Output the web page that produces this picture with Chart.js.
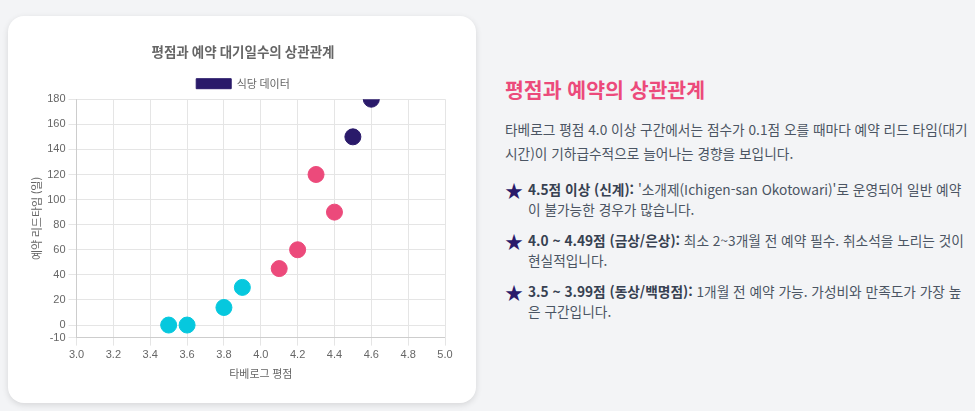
<!DOCTYPE html>
<html lang="ko">
<head>
<meta charset="utf-8">
<script src="https://cdn.jsdelivr.net/npm/chart.js@4.4.0/dist/chart.umd.min.js"></script>
<style>
  html, body { margin: 0; padding: 0; }
  body {
    width: 975px; height: 411px; overflow: hidden;
    background: #f3f4f6;
    font-family: "Noto Sans CJK KR", "Noto Sans", sans-serif;
    position: relative;
  }
  .card {
    position: absolute; left: 8px; top: 16px; width: 468px; height: 387px;
    background: #fff; border-radius: 16px;
    box-shadow: 0 2px 6px rgba(0,0,0,0.12);
  }
  .chart-box { position: absolute; left: 22px; top: 18px; width: 426px; height: 350px; }
  .info { position: absolute; left: 505px; top: 72px; width: 464px; color: #4b5563; }
  .info h2 { margin: 0 0 11px 0; font-size: 20.5px; font-weight: 700; color: #ec4a7b; line-height: 34px; }
  .info p { margin: 0 0 14px 0; font-size: 13.7px; line-height: 24px; }
  .info ul { list-style: none; margin: 0; padding: 0; }
  .info li { position: relative; padding-left: 23px; font-size: 13.7px; line-height: 20px; margin-bottom: 11px; }
  .info li::before { content: "\2605"; position: absolute; left: 0; top: 1px; color: #2a1a6a; font-size: 18px; }
  .info b { color: #374151; }
</style>
</head>
<body>
<div class="card"><div class="chart-box"><canvas id="corr"></canvas></div></div>
<div class="info">
  <h2>평점과 예약의 상관관계</h2>
  <p>타베로그 평점 4.0 이상 구간에서는 점수가 0.1점 오를 때마다 예약 리드 타임(대기시간)이 기하급수적으로 늘어나는 경향을 보입니다.</p>
  <ul>
    <li><b>4.5점 이상 (신계):</b> '소개제(Ichigen-san Okotowari)'로 운영되어 일반 예약이 불가능한 경우가 많습니다.</li>
    <li><b>4.0 ~ 4.49점 (금상/은상):</b> 최소 2~3개월 전 예약 필수. 취소석을 노리는 것이 현실적입니다.</li>
    <li><b>3.5 ~ 3.99점 (동상/백명점):</b> 1개월 전 예약 가능. 가성비와 만족도가 가장 높은 구간입니다.</li>
  </ul>
</div>
<script>
// 평점 (x) / 예약 리드타임 일수 (y)
const ratings = [4.6, 4.5, 4.4, 4.3, 4.2, 4.1, 3.9, 3.8, 3.6, 3.5];
const leadDays = [180, 150, 90, 120, 60, 45, 30, 14, 0, 0];
const xTicks = [3.0, 3.2, 3.4, 3.6, 3.8, 4.0, 4.2, 4.4, 4.6, 4.8, 5.0];
const yTicks = [-10, 0, 20, 40, 60, 80, 100, 120, 140, 160, 180];

const pointColors = ratings.map(r => r >= 4.5 ? '#2a1a6a' : (r >= 4.0 ? '#ec4a7b' : '#06c8de'));

const ctx = document.getElementById('corr').getContext('2d');
const chart = new Chart(ctx, {
  type: 'scatter',
  data: {
    datasets: [{
      label: '식당 데이터',
      data: ratings.map((r, i) => ({ x: r, y: leadDays[i] })),
      backgroundColor: pointColors,
      borderColor: pointColors,
      pointRadius: 8,
      pointHoverRadius: 10
    }]
  },
  options: {
    responsive: true,
    maintainAspectRatio: false,
    animation: false,
    plugins: {
      title: {
        display: true,
        text: '평점과 예약 대기일수의 상관관계',
        color: '#666',
        font: { size: 13.5, weight: 'bold', family: '"Noto Sans CJK KR", sans-serif' },
        padding: { top: 10, bottom: 10 }
      },
      legend: {
        labels: {
          boxWidth: 35, boxHeight: 10, color: '#666', padding: 8,
          font: { size: 11, family: '"Noto Sans CJK KR", sans-serif' }
        }
      }
    },
    scales: {
      x: {
        type: 'linear', min: 3.0, max: 5.0,
        afterBuildTicks: axis => { axis.ticks = xTicks.map(v => ({ value: v })); },
        ticks: { color: '#666', font: { size: 11, family: '"Liberation Sans", Arial' }, callback: v => v.toFixed(1) },
        grid: { color: '#e5e5e5' },
        title: { display: true, text: '타베로그 평점', color: '#666', padding: { top: 2, bottom: 4 }, font: { size: 11, family: '"Noto Sans CJK KR", sans-serif' } }
      },
      y: {
        min: -10, max: 180,
        afterBuildTicks: axis => { axis.ticks = yTicks.map(v => ({ value: v })); },
        ticks: { color: '#666', padding: 3, font: { size: 11, family: '"Liberation Sans", Arial' } },
        grid: { color: '#e5e5e5' },
        title: { display: true, text: '예약 리드타임 (일)', color: '#666', padding: { top: 0, bottom: 1 }, font: { size: 11, family: '"Noto Sans CJK KR", sans-serif' } }
      }
    }
  }
});
</script>
</body>
</html>
